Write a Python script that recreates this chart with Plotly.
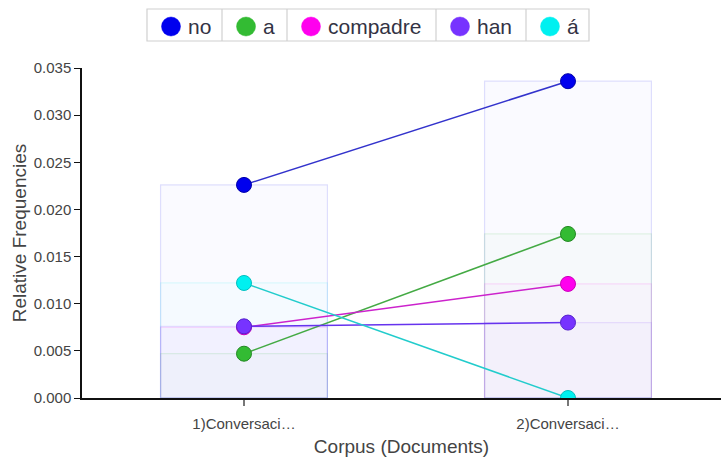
import plotly.graph_objects as go

# ---- data ----
categories = ["1)Conversaci…", "2)Conversaci…"]
series_names = ["no", "a", "compadre", "han", "á"]
no_vals = [0.0226, 0.0336]
a_vals = [0.0047, 0.0174]
compadre_vals = [0.0075, 0.0121]
han_vals = [0.0076, 0.0080]
a_acute_vals = [0.0122, 0.0]
y_ticks = [0.0, 0.005, 0.010, 0.015, 0.020, 0.025, 0.030, 0.035]

series_values = [no_vals, a_vals, compadre_vals, han_vals, a_acute_vals]
marker_colors = ["#0000ee", "#33bb33", "#ff00ee", "#7733ff", "#00f0f0"]
marker_lines = ["#0000aa", "#228822", "#cc00bb", "#5522cc", "#00c0c0"]
line_colors = ["#3333cc", "#44aa44", "#cc22cc", "#6633ee", "#22cccc"]
rgb = [(0, 0, 238), (51, 187, 51), (255, 0, 238), (119, 51, 255), (0, 240, 240)]

W, H = 721, 460
ML, MR, MT, MB = 82, 0, 68, 62
PW, PH = W - ML - MR, H - MT - MB


def px(x):
    return (x - ML) / PW


def py(y):
    return (H - MB - y) / PH


xs = list(range(len(categories)))
fig = go.Figure()

# translucent bars
for vals, c in zip(series_values, rgb):
    fig.add_trace(go.Bar(
        x=xs, y=vals, width=0.515,
        marker=dict(color="rgba(%d,%d,%d,0.018)" % c,
                    line=dict(color="rgba(%d,%d,%d,0.12)" % c, width=1.2)),
        showlegend=False, hoverinfo="skip"))

# lines + markers
for name, vals, mc, ml_, lc in zip(series_names, series_values, marker_colors, marker_lines, line_colors):
    fig.add_trace(go.Scatter(
        x=xs, y=vals, mode="lines+markers", name=name,
        line=dict(color=lc, width=1.5),
        marker=dict(size=15, color=mc, line=dict(color=ml_, width=1)),
        showlegend=False))

# custom boxed legend
shapes = []
annotations = []
leg_left, leg_right, leg_top, leg_bot = 147, 589, 9, 41
shapes.append(dict(type="rect", xref="paper", yref="paper",
                   x0=px(leg_left), x1=px(leg_right), y0=py(leg_bot), y1=py(leg_top),
                   line=dict(color="#d0d0d0", width=1.2), fillcolor="white", layer="above"))
item_edges = [147, 222, 287, 436, 526, 589]
for i, name in enumerate(series_names):
    left = item_edges[i]
    if i > 0:
        shapes.append(dict(type="line", xref="paper", yref="paper",
                           x0=px(left), x1=px(left), y0=py(leg_bot), y1=py(leg_top),
                           line=dict(color="#d0d0d0", width=1.2), layer="above"))
    cx, cy, r = left + 24, 26.5, 9.5
    shapes.append(dict(type="circle", xref="paper", yref="paper",
                       x0=px(cx - r), x1=px(cx + r), y0=py(cy + r), y1=py(cy - r),
                       fillcolor=marker_colors[i], line=dict(color=marker_colors[i], width=0.5),
                       layer="above"))
    annotations.append(dict(text=name, xref="paper", yref="paper",
                            x=px(cx + 15), y=py(cy), xanchor="left", yanchor="middle",
                            showarrow=False,
                            font=dict(size=21, color="#333344", family="Arial, Liberation Sans")))

fig.update_layout(
    width=W, height=H,
    margin=dict(l=ML, r=MR, t=MT, b=MB, autoexpand=False),
    barmode="overlay",
    plot_bgcolor="white", paper_bgcolor="white",
    font=dict(family="Arial, Liberation Sans", color="#444444"),
    shapes=shapes, annotations=annotations,
    xaxis=dict(
        range=[-0.5, -0.5 + PW / 324.0],
        tickvals=xs, ticktext=categories,
        showline=True, linecolor="#111111", linewidth=1.5,
        ticks="outside", ticklen=6, tickwidth=2, tickcolor="#777777",
        ticklabelstandoff=5,
        showgrid=False, zeroline=False,
        tickfont=dict(size=15, color="#444444"),
        title=dict(text="Corpus (Documents)", font=dict(size=19, color="#444444"), standoff=9),
    ),
    yaxis=dict(
        range=[0, 0.035],
        tickvals=y_ticks, tickformat=".3f",
        showline=True, linecolor="#111111", linewidth=1.5,
        ticks="outside", ticklen=6, tickwidth=1.2, tickcolor="#111111",
        showgrid=False, zeroline=False,
        tickfont=dict(size=15, color="#444444"),
        title=dict(text="Relative Frequencies", font=dict(size=19, color="#444444"), standoff=2),
    ),
)

fig.write_html("out.html", config={"displayModeBar": False},
               post_script="document.body.style.margin='0';document.body.style.overflow='hidden';")
